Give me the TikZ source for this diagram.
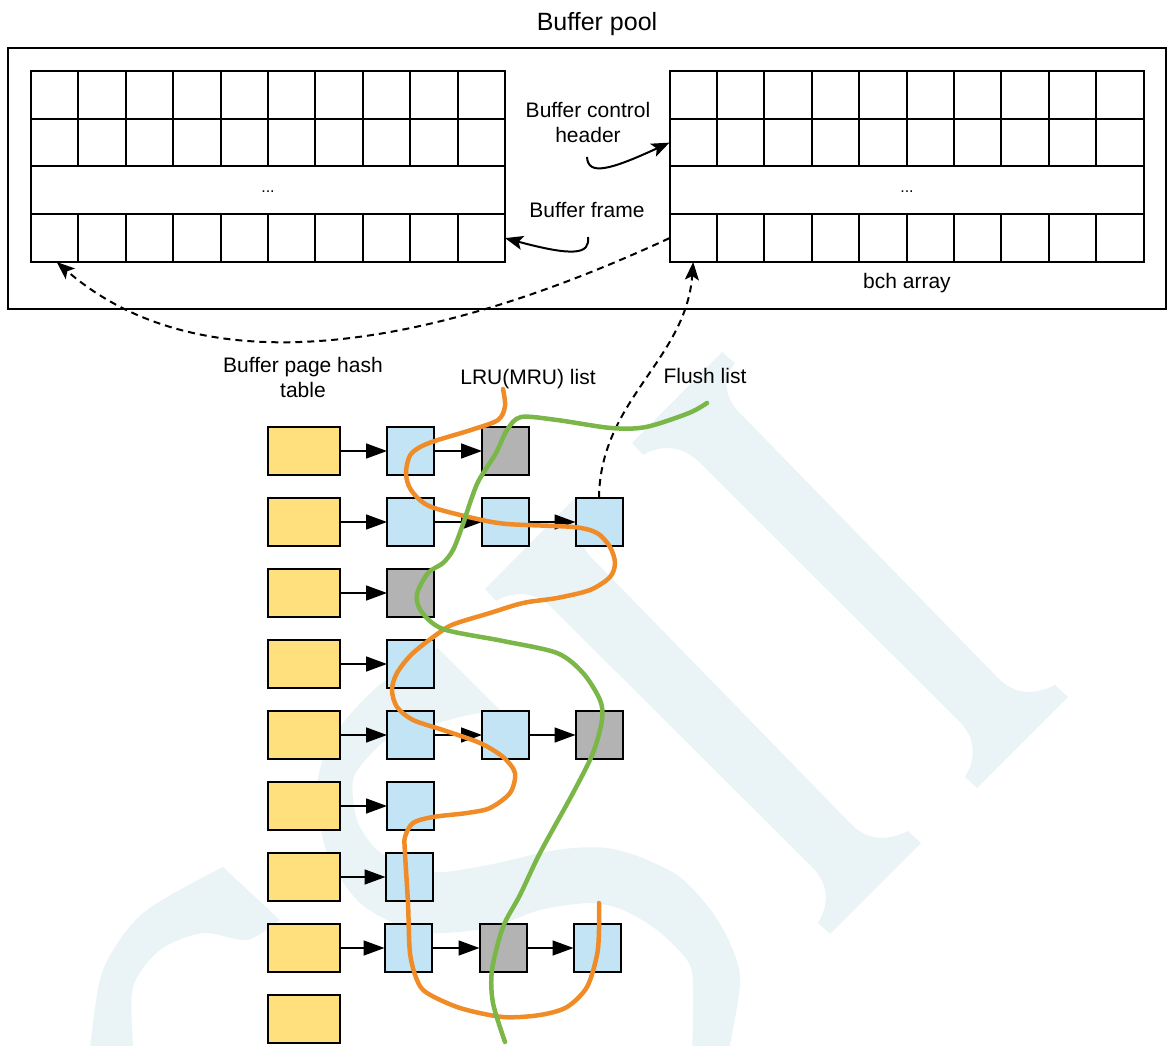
\documentclass[tikz,border=0pt]{standalone}
\usepackage{fontspec}
\setmainfont{Liberation Sans}
\usetikzlibrary{arrows.meta,calc}
\definecolor{wm}{HTML}{EAF4F7}
\definecolor{hashyel}{HTML}{FFE07D}
\definecolor{pageblue}{HTML}{C2E4F5}
\definecolor{pagegray}{HTML}{B3B3B3}
\definecolor{lruorange}{HTML}{F08C28}
\definecolor{flushgreen}{HTML}{7AB648}
\begin{document}
\begin{tikzpicture}[x=1pt,y=-1pt,
  lbl/.style={font=\fontsize{21}{25}\selectfont, inner sep=0, anchor=base},
  cell/.style={draw, line width=2pt, minimum width=47.4pt, minimum height=47.75pt, inner sep=0, outer sep=0, anchor=north west},
  wide/.style={cell, minimum width=474pt},
  dots/.style={font=\fontsize{16}{18}\selectfont, inner sep=0},
  box/.style={draw, line width=2pt, inner sep=0, outer sep=0, minimum width=47pt, minimum height=48pt},
  hbox/.style={box, fill=hashyel, minimum width=72pt},
  bbox/.style={box, fill=pageblue},
  gbox/.style={box, fill=pagegray},
  link/.style={line width=1.5pt, -{Triangle[length=21pt,width=15pt]}},
  note/.style={line width=2pt, -{Stealth[length=18pt,width=14pt,inset=4pt]}},
  ptr/.style={note, dash pattern=on 7pt off 5pt},
  lru/.style={line width=4.5pt, draw=lruorange, line cap=round},
  flush/.style={line width=4.5pt, draw=flushgreen, line cap=round}
]
\useasboundingbox (0,0) rectangle (1168,1046);

% watermark
\begin{scope}
\clip (0,0) rectangle (1168,1046);
\fill[wm] (632,443) -- (722,352) -- (735,363) .. controls (725,375) and (722,392) .. (737,410) -- (1000,680) .. controls (1020,698) and (1040,692) .. (1055,685) -- (1068,697) -- (977,788) -- (965,777) .. controls (975,760) and (978,740) .. (958,720) -- (697,460) .. controls (680,445) and (660,445) .. (643,455) -- cycle;
\begin{scope}[shift={(-147,146)}]
\fill[wm] (632,443) -- (722,352) -- (735,363) .. controls (725,375) and (722,392) .. (737,410) -- (1000,680) .. controls (1020,698) and (1040,692) .. (1055,685) -- (1068,697) -- (977,788) -- (965,777) .. controls (975,760) and (978,740) .. (958,720) -- (697,460) .. controls (680,445) and (660,445) .. (643,455) -- cycle;
\end{scope}
\fill[wm] plot[smooth] coordinates {(438,648) (377,687) (333,737) (317,787) (327,853) (360,903) (410,930) (443,933) (493,927) (540,910) (590,903) (623,910) (657,930) (687,960) (693,985) (692,1060)} -- plot[smooth] coordinates {(727,1060) (740,985) (733,950) (713,913) (680,877) (640,857) (607,848) (573,848) (540,853) (493,864) (443,872) (410,867) (377,850) (357,820) (353,780) (370,755) (393,737) (460,717) (500,710)} -- cycle;
\fill[wm] plot[smooth] coordinates {(86,1060) (90,1046) (103,970) (143,913) (223,867)} -- plot[smooth] coordinates {(280,920) (247,940) (203,933) (160,950) (133,987) (133,1046) (134,1060)} -- cycle;
\end{scope}

% buffer pool
\node[lbl, font=\fontsize{25}{30}\selectfont] (title) at (597,31) {Buffer pool};
\node[draw, line width=2pt, minimum width=1158pt, minimum height=261pt, anchor=north west, inner sep=0, outer sep=0] (pool) at (8,48) {};

\foreach \r/\yy in {1/71,2/118.75,4/214.25} {
  \foreach \c in {1,...,10} {
    \node[cell] (L-\r-\c) at ({31+(\c-1)*47.4},\yy) {};
    \node[cell] (R-\r-\c) at ({669.5+(\c-1)*47.4},\yy) {};
  }
}
\node[wide] (Ldots) at (31,166.5) {};
\node[wide] (Rdots) at (669.5,166.5) {};
\node[dots] (Ldotstext) at (268,192) {...};
\node[dots] (Rdotstext) at (907,192) {...};

\node[lbl] (bchlbl1) at (588,118) {Buffer control};
\node[lbl] (bchlbl2) at (588,143) {header};
\node[lbl] (bflbl) at (587,217) {Buffer frame};
\node[lbl] (bcharr) at (907,288) {bch array};

\coordinate (bchtail) at (587,157);
\draw[note] (bchtail) .. controls (588,176) and (610,170) .. (R-2-1.west);
\coordinate (bftail) at (588,237);
\draw[note] (bftail) .. controls (590,254) and (575,257) .. (L-4-10.east);

% hash table and pages
\node[lbl] (hashlbl1) at (303,372) {Buffer page hash};
\node[lbl] (hashlbl2) at (303,397) {table};
\node[lbl] (lrulbl) at (528,384) {LRU(MRU) list};
\node[lbl] (flushlbl) at (705,383) {Flush list};

\node[hbox] (h1) at (304,451) {};
\node[hbox] (h2) at (304,522) {};
\node[hbox] (h3) at (304,593) {};
\node[hbox] (h4) at (304,664) {};
\node[hbox] (h5) at (304,735) {};
\node[hbox] (h6) at (304,806) {};
\node[hbox] (h7) at (304,877) {};
\node[hbox] (h8) at (304,948) {};
\node[hbox] (h9) at (304,1019) {};

\node[bbox] (b11) at (410.5,451) {};
\node[gbox] (g12) at (505.5,451) {};
\node[bbox] (b21) at (410.5,522) {};
\node[bbox] (b22) at (505.5,522) {};
\node[bbox] (b23) at (599,522) {};
\node[gbox] (g31) at (410.5,593) {};
\node[bbox] (b41) at (410.5,664) {};
\node[bbox] (b51) at (410.5,735) {};
\node[bbox] (b52) at (505.5,735) {};
\node[gbox] (g53) at (599,735) {};
\node[bbox] (b61) at (410.5,806) {};
\node[bbox] (b71) at (409,877) {};
\node[bbox] (b81) at (408,948) {};
\node[gbox] (g82) at (503,948) {};
\node[bbox] (b83) at (597,948) {};

\draw[link] (h1) -- (b11);
\draw[link] (b11) -- (g12);
\draw[link] (h2) -- (b21);
\draw[link] (b21) -- (b22);
\draw[link] (b22) -- (b23);
\draw[link] (h3) -- (g31);
\draw[link] (h4) -- (b41);
\draw[link] (h5) -- (b51);
\draw[link] (b51) -- (b52);
\draw[link] (b52) -- (g53);
\draw[link] (h6) -- (b61);
\draw[link] (h7) -- (b71);
\draw[link] (h8) -- (b81);
\draw[link] (b81) -- (g82);
\draw[link] (g82) -- (b83);

% pointers into the pool
\draw[ptr] (R-4-1.west) .. controls (450,340) and (210,395) .. ($(L-4-1.south)+(2,0)$);
\draw[ptr] (b23.north) .. controls (600,400) and (686,360) .. (R-4-1.south);

% LRU list
\draw[lru] plot[smooth] coordinates {(503,389) (505,406) (498,420) (471,430) (429,443) (411,454) (406,473) (411,490) (429,506) (473,518) (507,524) (573,527) (597,533) (610,547) (615,563) (610,577) (590,590) (557,598) (523,603) (490,613) (457,623) (443,630) (413,653) (397,673) (392,690) (397,707) (413,720) (443,730) (480,743) (503,757) (515,773) (510,793) (490,808) (467,813) (433,817) (413,823) (405,837) (405,853) (408,903) (410,953) (417,980) (427,993) (460,1008) (503,1017) (540,1015) (567,1007) (587,987) (597,955) (599,930) (599,903)};

% Flush list
\draw[flush] plot[smooth] coordinates {(707,403) (689,413) (646,427) (611,428) (557,420) (521,417) (507,430) (496,453) (479,480) (471,500) (462,527) (453,550) (443,563) (428,573) (417,594) (421,611) (443,629) (503,641) (557,653) (583,673) (600,700) (602,720) (593,753) (573,793) (540,853) (520,895) (503,927) (492,970) (493,1003) (505,1042)};
\end{tikzpicture}
\end{document}
